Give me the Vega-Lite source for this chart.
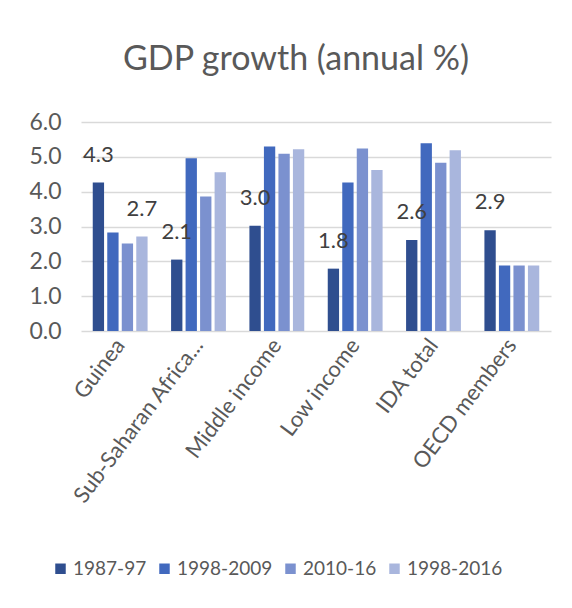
{
  "$schema": "https://vega.github.io/schema/vega-lite/v6.json",
  "autosize": {"type": "none"},
  "width": 470,
  "height": 209,
  "padding": {"left": 81, "top": 122, "right": 21, "bottom": 277},
  "background": "white",
  "title": {
    "text": "GDP growth (annual %)",
    "fontSize": 34,
    "font": "Lato",
    "fontWeight": "normal",
    "color": "#595959",
    "anchor": "middle",
    "dx": -20,
    "offset": 27
  },
  "config": {
    "view": {"stroke": null},
    "font": "Lato"
  },
  "data": {
    "values": [
      {"region": "Guinea", "period": "1987-97", "value": 4.26, "label": "4.3"},
      {"region": "Guinea", "period": "1998-2009", "value": 2.83, "label": ""},
      {"region": "Guinea", "period": "2010-16", "value": 2.51, "label": ""},
      {"region": "Guinea", "period": "1998-2016", "value": 2.71, "label": "2.7"},
      {"region": "Sub-Saharan Africa...", "period": "1987-97", "value": 2.05, "label": "2.1"},
      {"region": "Sub-Saharan Africa...", "period": "1998-2009", "value": 4.96, "label": ""},
      {"region": "Sub-Saharan Africa...", "period": "2010-16", "value": 3.86, "label": ""},
      {"region": "Sub-Saharan Africa...", "period": "1998-2016", "value": 4.56, "label": ""},
      {"region": "Middle income", "period": "1987-97", "value": 3.02, "label": "3.0"},
      {"region": "Middle income", "period": "1998-2009", "value": 5.3, "label": ""},
      {"region": "Middle income", "period": "2010-16", "value": 5.09, "label": ""},
      {"region": "Middle income", "period": "1998-2016", "value": 5.22, "label": ""},
      {"region": "Low income", "period": "1987-97", "value": 1.79, "label": "1.8"},
      {"region": "Low income", "period": "1998-2009", "value": 4.26, "label": ""},
      {"region": "Low income", "period": "2010-16", "value": 5.24, "label": ""},
      {"region": "Low income", "period": "1998-2016", "value": 4.62, "label": ""},
      {"region": "IDA total", "period": "1987-97", "value": 2.61, "label": "2.6"},
      {"region": "IDA total", "period": "1998-2009", "value": 5.39, "label": ""},
      {"region": "IDA total", "period": "2010-16", "value": 4.83, "label": ""},
      {"region": "IDA total", "period": "1998-2016", "value": 5.19, "label": ""},
      {"region": "OECD members", "period": "1987-97", "value": 2.89, "label": "2.9"},
      {"region": "OECD members", "period": "1998-2009", "value": 1.88, "label": ""},
      {"region": "OECD members", "period": "2010-16", "value": 1.88, "label": ""},
      {"region": "OECD members", "period": "1998-2016", "value": 1.88, "label": ""}
    ]
  },
  "encoding": {
    "x": {
      "field": "region",
      "type": "nominal",
      "sort": null,
      "scale": {"paddingInner": 0.3, "paddingOuter": 0.15},
      "axis": {
        "title": null,
        "labelAngle": -53,
        "labelFontSize": 22,
        "labelColor": "#595959",
        "labelPadding": 10,
        "ticks": false,
        "domain": false,
        "labelLimit": 300
      }
    },
    "xOffset": {
      "field": "period",
      "type": "nominal",
      "sort": ["1987-97", "1998-2009", "2010-16", "1998-2016"],
      "scale": {"paddingInner": 0.22, "paddingOuter": 0}
    },
    "y": {
      "field": "value",
      "type": "quantitative",
      "scale": {"domain": [0, 6], "nice": false},
      "axis": {
        "title": null,
        "values": [0, 1, 2, 3, 4, 5, 6],
        "format": ".1f",
        "labelFontSize": 23,
        "labelColor": "#595959",
        "labelPadding": 20,
        "ticks": false,
        "domain": false,
        "gridColor": "#d9d9d9",
        "gridWidth": 1.5
      }
    }
  },
  "layer": [
    {
      "mark": {"type": "bar"},
      "encoding": {
        "color": {
          "field": "period",
          "type": "nominal",
          "sort": ["1987-97", "1998-2009", "2010-16", "1998-2016"],
          "scale": {
            "domain": ["1987-97", "1998-2009", "2010-16", "1998-2016"],
            "range": ["#2F4E8F", "#4169BE", "#7B91CF", "#A9B6DD"]
          },
          "legend": {
            "title": null,
            "orient": "none",
            "legendX": -30,
            "legendY": 437,
            "direction": "horizontal",
            "columns": 4,
            "symbolType": "square",
            "symbolSize": 110,
            "symbolStrokeWidth": 0,
            "labelFontSize": 19,
            "labelColor": "#595959",
            "columnPadding": 8,
            "labelOffset": 3
          }
        }
      }
    },
    {
      "mark": {"type": "text", "dy": -28, "fontSize": 22, "color": "#404040"},
      "encoding": {
        "text": {"field": "label"}
      }
    }
  ]
}
